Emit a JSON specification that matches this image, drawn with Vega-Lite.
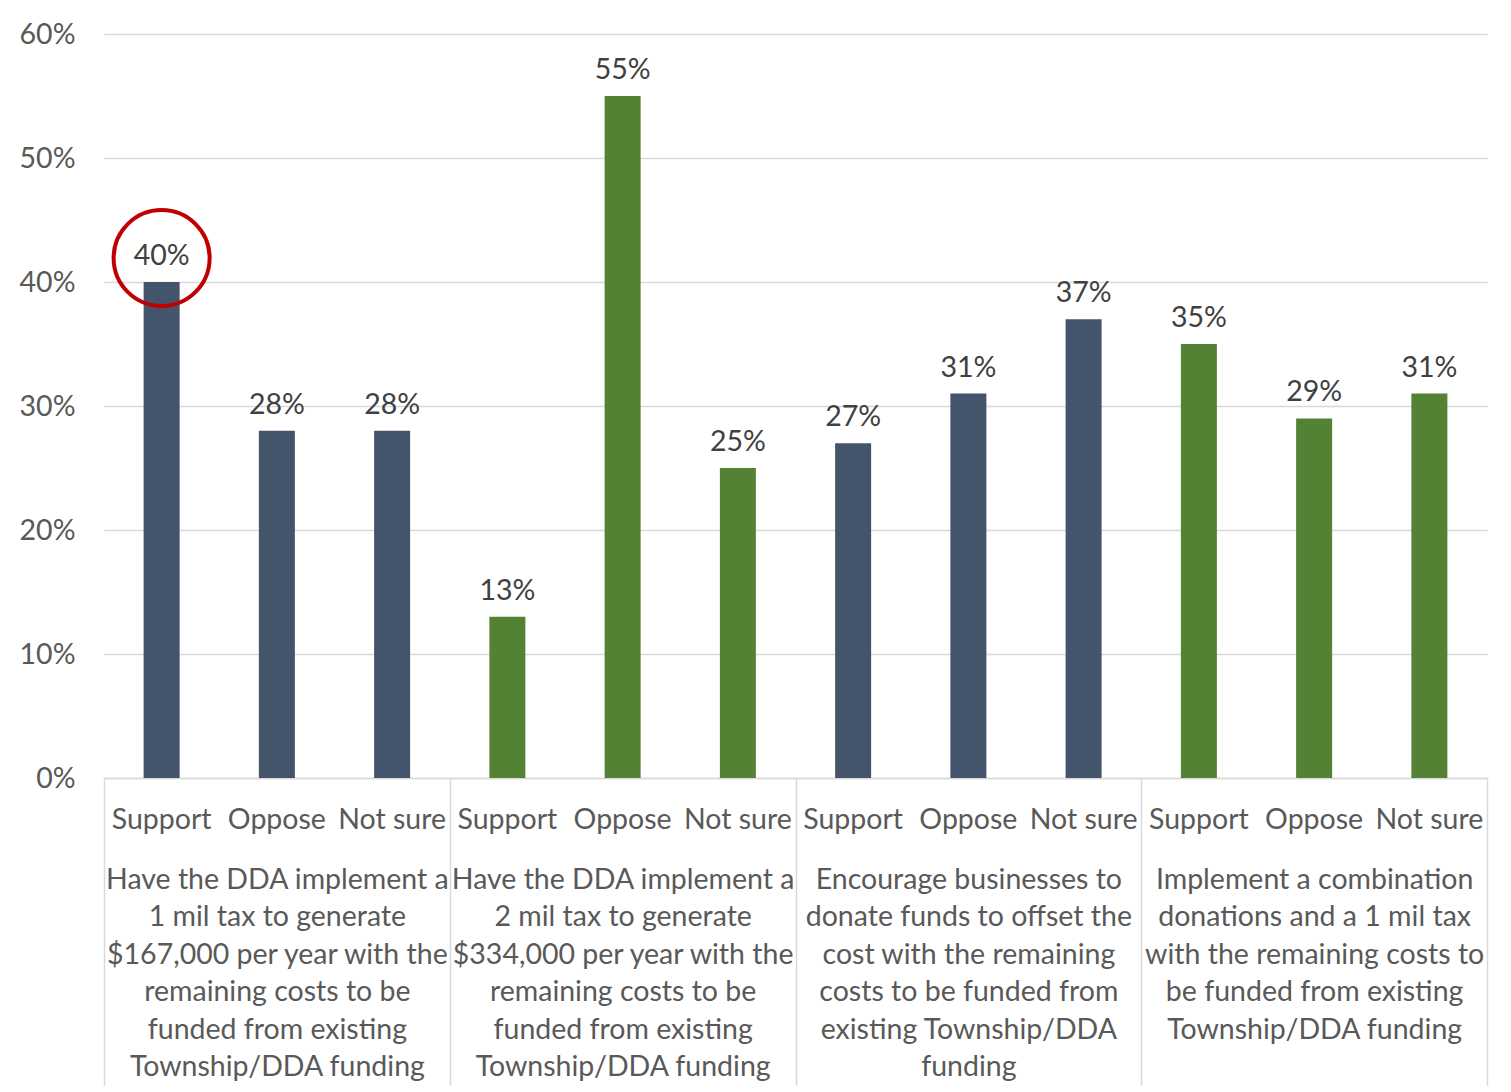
{
  "$schema": "https://vega.github.io/schema/vega-lite/v6.json",
  "autosize": "none",
  "width": 1383,
  "height": 744,
  "padding": {"left": 104, "top": 34, "right": 24, "bottom": 314},
  "background": "white",
  "config": {"view": {"stroke": null}, "font": "Lato"},
  "data": {
    "values": [
      {"question": "Have the DDA implement a\n1 mil tax to generate\n$167,000 per year with the\nremaining costs to be\nfunded from existing\nTownship/DDA funding", "response": "Support", "value": 0.40, "circled": true},
      {"question": "Have the DDA implement a\n1 mil tax to generate\n$167,000 per year with the\nremaining costs to be\nfunded from existing\nTownship/DDA funding", "response": "Oppose", "value": 0.28, "circled": false},
      {"question": "Have the DDA implement a\n1 mil tax to generate\n$167,000 per year with the\nremaining costs to be\nfunded from existing\nTownship/DDA funding", "response": "Not sure", "value": 0.28, "circled": false},
      {"question": "Have the DDA implement a\n2 mil tax to generate\n$334,000 per year with the\nremaining costs to be\nfunded from existing\nTownship/DDA funding", "response": "Support", "value": 0.13, "circled": false},
      {"question": "Have the DDA implement a\n2 mil tax to generate\n$334,000 per year with the\nremaining costs to be\nfunded from existing\nTownship/DDA funding", "response": "Oppose", "value": 0.55, "circled": false},
      {"question": "Have the DDA implement a\n2 mil tax to generate\n$334,000 per year with the\nremaining costs to be\nfunded from existing\nTownship/DDA funding", "response": "Not sure", "value": 0.25, "circled": false},
      {"question": "Encourage businesses to\ndonate funds to offset the\ncost with the remaining\ncosts to be funded from\nexisting Township/DDA\nfunding", "response": "Support", "value": 0.27, "circled": false},
      {"question": "Encourage businesses to\ndonate funds to offset the\ncost with the remaining\ncosts to be funded from\nexisting Township/DDA\nfunding", "response": "Oppose", "value": 0.31, "circled": false},
      {"question": "Encourage businesses to\ndonate funds to offset the\ncost with the remaining\ncosts to be funded from\nexisting Township/DDA\nfunding", "response": "Not sure", "value": 0.37, "circled": false},
      {"question": "Implement a combination\ndonations and a 1 mil tax\nwith the remaining costs to\nbe funded from existing\nTownship/DDA funding", "response": "Support", "value": 0.35, "circled": false},
      {"question": "Implement a combination\ndonations and a 1 mil tax\nwith the remaining costs to\nbe funded from existing\nTownship/DDA funding", "response": "Oppose", "value": 0.29, "circled": false},
      {"question": "Implement a combination\ndonations and a 1 mil tax\nwith the remaining costs to\nbe funded from existing\nTownship/DDA funding", "response": "Not sure", "value": 0.31, "circled": false}
    ]
  },
  "encoding": {
    "x": {
      "field": "question", "type": "nominal", "sort": null,
      "scale": {"paddingInner": 0, "paddingOuter": 0},
      "axis": {
        "title": null,
        "labelExpr": "split(datum.label, '\\n')",
        "labelAngle": 0,
        "labelOverlap": false,
        "labelLimit": 0,
        "labelFont": "Lato",
        "labelFontSize": 28.5,
        "labelColor": "#595959",
        "labelLineHeight": 37.5,
        "labelBaseline": "top",
        "labelPadding": -220,
        "tickBand": "extent",
        "tickSize": 307,
        "tickColor": "#D9D9D9",
        "tickWidth": 1.5,
        "domainColor": "#D9D9D9",
        "domainWidth": 1.5,
        "grid": false
      }
    },
    "xOffset": {
      "field": "response", "type": "nominal", "sort": ["Support", "Oppose", "Not sure"],
      "scale": {"paddingInner": 0.6876, "paddingOuter": 0.3438}
    },
    "y": {
      "field": "value", "type": "quantitative",
      "scale": {"domain": [0, 0.6]},
      "axis": {
        "title": null,
        "values": [0, 0.1, 0.2, 0.3, 0.4, 0.5, 0.6],
        "format": ".0%",
        "grid": true,
        "gridColor": "#D9D9D9",
        "gridWidth": 1.5,
        "domain": false,
        "ticks": false,
        "labelPadding": 29,
        "labelFont": "Lato",
        "labelFontSize": 28.5,
        "labelColor": "#595959"
      }
    }
  },
  "layer": [
    {
      "mark": {"type": "bar"},
      "encoding": {
        "color": {
          "field": "question", "type": "nominal", "sort": null,
          "scale": {"range": ["#44546A", "#548235", "#44546A", "#548235"]},
          "legend": null
        }
      }
    },
    {
      "mark": {"type": "text", "baseline": "alphabetic", "dy": -17, "font": "Lato", "fontSize": 28.5, "color": "#404040"},
      "encoding": {"text": {"field": "value", "type": "quantitative", "format": ".0%"}}
    },
    {
      "mark": {"type": "text", "baseline": "alphabetic", "dy": 51, "font": "Lato", "fontSize": 28.5, "color": "#595959"},
      "encoding": {"y": {"datum": 0}, "text": {"field": "response", "type": "nominal"}}
    },
    {
      "transform": [{"filter": "datum.circled"}],
      "mark": {"type": "point", "shape": "circle", "filled": false, "size": 9216, "stroke": "#C00000", "strokeWidth": 4, "opacity": 1, "yOffset": -24}
    }
  ]
}
